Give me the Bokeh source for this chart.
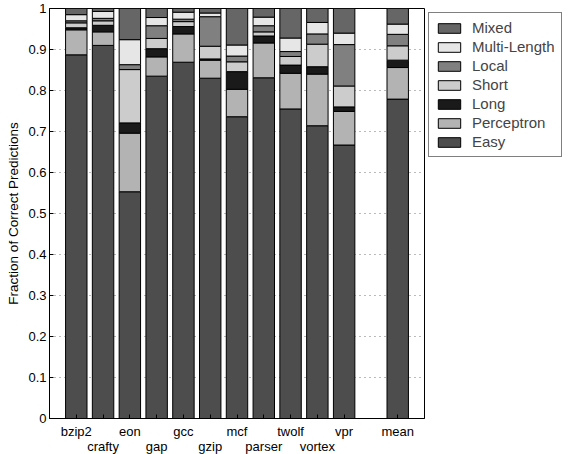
from bokeh.plotting import figure
from bokeh.models import ColumnDataSource, Legend, LegendItem, FixedTicker, Range1d
from bokeh.embed import file_html
from bokeh.resources import INLINE

# Categories (benchmark) and their slot on the x axis (slot 12 left empty)
benchmarks = ["bzip2", "crafty", "eon", "gap", "gcc", "gzip", "mcf", "parser",
              "twolf", "vortex", "vpr", "mean"]
slots = [1, 2, 3, 4, 5, 6, 7, 8, 9, 10, 11, 13]

# Segment heights (fraction of correct predictions), bottom to top
easy         = [0.887, 0.910, 0.553, 0.835, 0.869, 0.830, 0.736, 0.831, 0.755, 0.714, 0.667, 0.779]
perceptron   = [0.061, 0.033, 0.143, 0.047, 0.069, 0.044, 0.067, 0.085, 0.087, 0.126, 0.082, 0.077]
long_        = [0.005, 0.016, 0.025, 0.020, 0.018, 0.003, 0.043, 0.017, 0.020, 0.018, 0.011, 0.018]
short        = [0.012, 0.011, 0.130, 0.025, 0.012, 0.031, 0.024, 0.010, 0.021, 0.055, 0.051, 0.035]
local        = [0.005, 0.006, 0.012, 0.031, 0.006, 0.072, 0.014, 0.015, 0.012, 0.025, 0.101, 0.028]
multi_length = [0.015, 0.017, 0.061, 0.020, 0.017, 0.009, 0.027, 0.021, 0.033, 0.028, 0.028, 0.025]
mixed        = [0.015, 0.007, 0.076, 0.022, 0.009, 0.011, 0.089, 0.021, 0.072, 0.034, 0.060, 0.038]

series_names = ["Easy", "Perceptron", "Long", "Short", "Local", "Multi-Length", "Mixed"]
series_cols = ["easy", "perceptron", "long", "short", "local", "multi", "mixed"]
colors = ["#4d4d4d", "#b3b3b3", "#1a1a1a", "#cccccc", "#808080", "#e6e6e6", "#666666"]

yticks = [0, 0.1, 0.2, 0.3, 0.4, 0.5, 0.6, 0.7, 0.8, 0.9, 1]
ytick_labels = ["0", "0.1", "0.2", "0.3", "0.4", "0.5", "0.6", "0.7", "0.8", "0.9", "1"]

source = ColumnDataSource(dict(x=slots, easy=easy, perceptron=perceptron, long=long_,
                               short=short, local=local, multi=multi_length, mixed=mixed))

FONT = "Liberation Sans"

p = figure(frame_width=375, frame_height=410, output_backend="svg", toolbar_location=None,
           x_range=Range1d(0, 14), y_range=Range1d(0, 1),
           min_border_left=49, min_border_top=8, min_border_bottom=30, min_border_right=4)

rs = p.vbar_stack(series_cols, x="x", width=0.8, source=source,
                  fill_color=colors, line_color="black", line_width=1)

# x axis: labels alternate between two rows
xaxis = p.xaxis[0]
xaxis.ticker = FixedTicker(ticks=slots)
xaxis.major_label_overrides = {s: (("\n" + b) if s % 2 == 0 else b) for s, b in zip(slots, benchmarks)}
xaxis.major_tick_in = 4
xaxis.major_tick_out = 0
xaxis.minor_tick_line_color = None
xaxis.major_label_standoff = 5
xaxis.major_label_text_font = FONT
xaxis.major_label_text_font_size = "13px"
xaxis.major_label_text_line_height = 1.05
xaxis.major_label_text_color = "black"

yaxis = p.yaxis[0]
yaxis.ticker = FixedTicker(ticks=yticks)
yaxis.major_label_overrides = {t: l for t, l in zip(yticks, ytick_labels)}
yaxis.major_tick_in = 4
yaxis.major_tick_out = 0
yaxis.minor_tick_line_color = None
yaxis.major_label_standoff = 3
yaxis.major_label_text_font = FONT
yaxis.major_label_text_font_size = "13px"
yaxis.major_label_text_color = "black"
yaxis.axis_label = "Fraction of Correct Predictions"
yaxis.axis_label_text_font = FONT
yaxis.axis_label_text_font_size = "13.5px"
yaxis.axis_label_text_font_style = "normal"
yaxis.axis_label_text_color = "black"
yaxis.axis_label_standoff = 4

for ax in (xaxis, yaxis):
    ax.axis_line_color = "black"
    ax.major_tick_line_color = "black"

p.xgrid.grid_line_color = None
p.ygrid.ticker = FixedTicker(ticks=yticks)
p.ygrid.grid_line_color = "#777777"
p.ygrid.grid_line_dash = "1 4"
p.ygrid.grid_line_width = 1

p.outline_line_color = "black"
p.outline_line_width = 1
p.background_fill_color = "white"
p.border_fill_color = "white"

items = [LegendItem(label=n, renderers=[r]) for n, r in zip(series_names, rs)][::-1]
legend = Legend(items=items, location="top_left", orientation="vertical",
                label_text_font=FONT, label_text_font_size="15px",
                glyph_width=28, glyph_height=12, label_height=17, label_standoff=9,
                spacing=2, padding=6, margin=4,
                border_line_color="black", border_line_width=1,
                background_fill_alpha=1.0)
p.add_layout(legend, "right")

open("out.html", "w").write(file_html(p, INLINE))
